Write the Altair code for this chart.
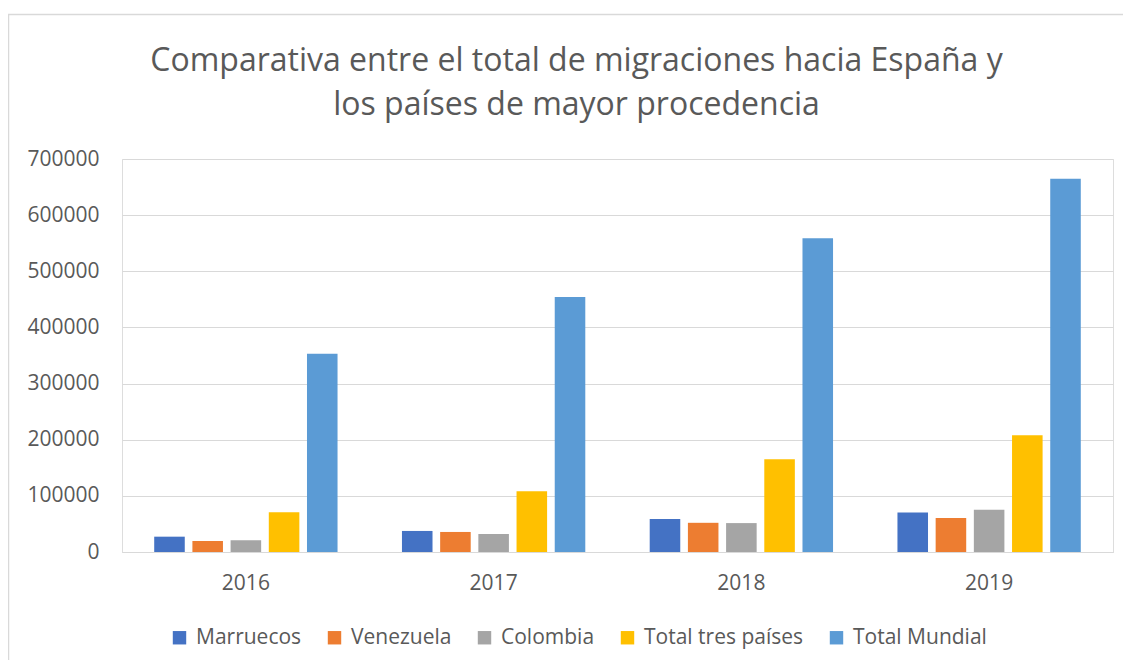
import altair as alt
import pandas as pd

years = ["2016", "2017", "2018", "2019"]
series = ["Marruecos", "Venezuela", "Colombia", "Total tres países", "Total Mundial"]
marruecos = [27300, 37500, 58600, 70300]
venezuela = [19600, 35700, 52000, 60400]
colombia = [20900, 32100, 51500, 75100]
total_tres = [70900, 108400, 165200, 207800]
total_mundial = [353000, 454000, 558800, 664800]
colors = ["#4472C4", "#ED7D31", "#A5A5A5", "#FFC000", "#5B9BD5"]
y_ticks = [0, 100000, 200000, 300000, 400000, 500000, 600000, 700000]

rows = []
for s, vals in zip(series, [marruecos, venezuela, colombia, total_tres, total_mundial]):
    for yr, v in zip(years, vals):
        rows.append({"Año": yr, "Serie": s, "Valor": v})
df = pd.DataFrame(rows)

FONT = "Open Sans"
TXT = "#595959"

bars = alt.Chart(df).mark_bar().encode(
    x=alt.X("Año:N", sort=years,
            scale=alt.Scale(paddingInner=0.26, paddingOuter=0.13),
            axis=alt.Axis(title=None, labelAngle=0, ticks=False, domainColor="#D9D9D9",
                          domainWidth=1, labelFontSize=21, labelColor=TXT, labelFont=FONT,
                          labelPadding=20, grid=False)),
    xOffset=alt.XOffset("Serie:N", sort=series, scale=alt.Scale(paddingInner=0.2, paddingOuter=0)),
    y=alt.Y("Valor:Q", scale=alt.Scale(domain=[0, 700000], nice=False),
            axis=alt.Axis(title=None, values=y_ticks, format="d", ticks=False, domain=False,
                          gridColor="#D9D9D9", gridWidth=1, labelFontSize=21, labelColor=TXT,
                          labelFont=FONT, labelPadding=23)),
    color=alt.Color("Serie:N", sort=series,
                    scale=alt.Scale(domain=series, range=colors),
                    legend=alt.Legend(title=None, orient="none", direction="horizontal",
                                      legendX=47, legendY=468,
                                      symbolType="square", symbolSize=180, symbolStrokeWidth=0,
                                      labelFontSize=21, labelColor=TXT, labelFont=FONT,
                                      columnPadding=22, labelOffset=6)),
)

frame = alt.Chart(alt.Data(values=[{"a": 1}])).mark_rect(
    fill=None, stroke="#D9D9D9", strokeWidth=1.5
).encode(
    x=alt.value(-113.5), x2=alt.value(1100), y=alt.value(-144.5), y2=alt.value(600)
)

chart = alt.layer(frame, bars).properties(
    width=991, height=393,
    autosize=alt.AutoSizeParams(type="none"),
    padding={"left": 114, "top": 151, "right": 10, "bottom": 108},
    title=alt.Title(
        ["Comparativa entre el total de migraciones hacia España y",
         "los países de mayor procedencia"],
        fontSize=32, font=FONT, fontWeight="normal", color=TXT, lineHeight=44,
        anchor="middle", frame="group", dx=-41, offset=-108,
    ),
).configure_view(stroke=None).configure(background="white")

chart.save("out.html", embed_options={"renderer": "svg", "actions": False})
